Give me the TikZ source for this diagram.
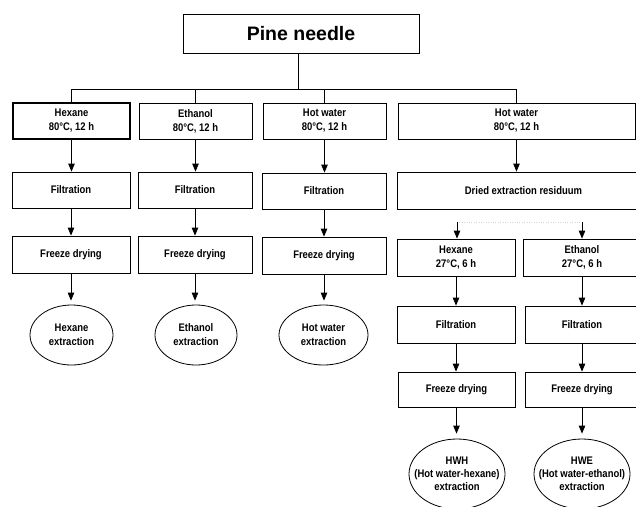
\documentclass[tikz,border=0pt]{standalone}
\usepackage{fontspec}
\setmainfont{Liberation Sans}
\newfontfamily\narrowbold{Liberation Sans}[FakeStretch=0.86, UprightFont=*-Bold]
\usetikzlibrary{arrows.meta,shapes.geometric}
\begin{document}
\begin{tikzpicture}[x=1pt,y=-1pt,
  every node/.style={font=\narrowbold\fontsize{11}{14}\selectfont},
  box/.style={draw, line width=0.8pt, rectangle, inner sep=0pt, align=center, minimum height=#1},
  box/.default=36,
  ell/.style={draw, line width=0.8pt, ellipse, inner sep=0pt},
  txt/.style={align=center, inner sep=0pt},
  arr/.style={-{Triangle[length=8pt,width=6.5pt]}, line width=0.8pt},
  lnk/.style={line width=0.8pt}]
\useasboundingbox (0,0) rectangle (636,506);
\fill[white] (0,0) rectangle (636,506);

% top
\node[box=39, minimum width=236, font=\fontsize{19.5}{22}\selectfont\bfseries] (pine) at (301,33.5) {Pine needle};
\coordinate (j) at (298,89);

% row 1
\node[box, minimum width=117, line width=1.1pt] (hex1) at (71.5,121) {Hexane\\80°C, 12 h};
\node[box, minimum width=113] (eth1) at (195.5,121) {Ethanol\\80°C, 12 h};
\node[box, minimum width=123] (hw1) at (324.5,121) {Hot water\\80°C, 12 h};
\node[box, minimum width=237] (hw2) at (516.5,121) {Hot water\\80°C, 12 h};

\draw[lnk] (pine.south -| j) -- (j);
\draw[lnk] (hex1.north) -- (hex1.north |- j) -- (hw2.north |- j) -- (hw2.north);
\draw[lnk] (eth1.north) -- (eth1.north |- j);
\draw[lnk] (hw1.north) -- (hw1.north |- j);

% row 2
\node[box, minimum width=118] (filt1) at (71,190) {Filtration};
\node[box, minimum width=114] (filt2) at (195,190) {Filtration};
\node[box, minimum width=124] (filt3) at (324,191) {Filtration};
\node[box=37, minimum width=253] (dried) at (523.5,190.5) {Dried extraction residuum};

% row 3
\node[box=37, minimum width=118] (fd1) at (71,254.5) {Freeze drying};
\node[box=37, minimum width=114] (fd2) at (195,254.5) {Freeze drying};
\node[box=37, minimum width=124] (fd3) at (324,255.5) {Freeze drying};

% ellipses left
\node[ell, minimum width=83, minimum height=60] (e1) at (71.5,335) {};
\node[txt] (e1t) at (e1) {Hexane\\extraction};
\node[ell, minimum width=82, minimum height=60] (e2) at (196,335) {};
\node[txt] (e2t) at (e2) {Ethanol\\extraction};
\node[ell, minimum width=89, minimum height=60] (e3) at (323.5,335) {};
\node[txt] (e3t) at (e3) {Hot water\\extraction};

% right sub-branches
\node[box=37, minimum width=118] (hex2) at (456,257.5) {Hexane\\27°C, 6 h};
\node[box=37, minimum width=118] (eth2) at (582,257.5) {Ethanol\\27°C, 6 h};
\node[box=37, minimum width=118] (filtA) at (456,324.5) {Filtration};
\node[box=37, minimum width=114] (filtB) at (582,324.5) {Filtration};
\node[box=35, minimum width=117] (fdA) at (456.5,389.5) {Freeze drying};
\node[box=35, minimum width=114] (fdB) at (582,389.5) {Freeze drying};
\node[ell, minimum width=96, minimum height=70] (hwh) at (457,474) {};
\node[txt, font=\narrowbold\fontsize{11}{13}\selectfont] (hwht) at (hwh) {HWH\\(Hot water-hexane)\\extraction};
\node[ell, minimum width=96, minimum height=70] (hwe) at (582,474) {};
\node[txt, font=\narrowbold\fontsize{11}{13}\selectfont] (hwet) at (hwe) {HWE\\(Hot water-ethanol)\\extraction};

% arrows left columns
\foreach \a/\b/\c/\d in {hex1/filt1/fd1/e1, eth1/filt2/fd2/e2, hw1/filt3/fd3/e3}{
  \draw[arr] (\a.south) -- (\a.south |- \b.north);
  \draw[arr] (\b.south) -- (\b.south |- \c.north);
  \draw[arr, shorten >=4pt] (\c.south) -- (\c.south |- \d.north);
}

% right column arrows
\draw[arr] (hw2.south) -- (hw2.south |- dried.north);
\coordinate (c1) at (457,222);
\coordinate (c2) at (582,222);
\draw[gray!35, dotted] (c1) -- (c2);
\draw[arr] (c1) -- (c1 |- hex2.north);
\draw[arr] (c2) -- (c2 |- eth2.north);
\draw[arr] (hex2.south) -- (hex2.south |- filtA.north);
\draw[arr] (eth2.south) -- (eth2.south |- filtB.north);
\draw[arr] (filtA.south) -- (filtA.south |- fdA.north);
\draw[arr] (filtB.south) -- (filtB.south |- fdB.north);
\draw[arr, shorten >=5pt] (fdA.south) -- (fdA.south |- hwh.north);
\draw[arr, shorten >=5pt] (fdB.south) -- (fdB.south |- hwe.north);
\end{tikzpicture}
\end{document}
